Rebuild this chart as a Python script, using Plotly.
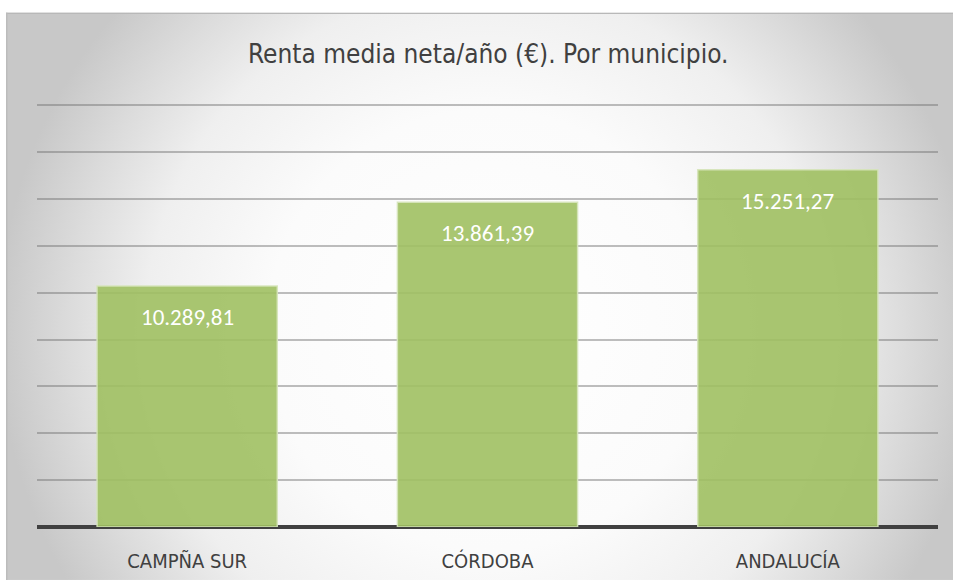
import base64
import plotly.graph_objects as go

# data
categorias = ['CAMPÑA SUR', 'CÓRDOBA', 'ANDALUCÍA']
renta = [10289.81, 13861.39, 15251.27]
etiquetas = ['10.289,81', '13.861,39', '15.251,27']
y_ticks = [0, 2000, 4000, 6000, 8000, 10000, 12000, 14000, 16000, 18000]

narrow = 'DejaVu Sans Condensed, Liberation Sans Narrow, Roboto, sans-serif'

# circular grey->white background like the original office chart
svg = '''<svg xmlns="http://www.w3.org/2000/svg" width="947" height="568" viewBox="0 0 947 568" preserveAspectRatio="none">
<defs><radialGradient id="g" gradientUnits="userSpaceOnUse" cx="482" cy="318" r="490">
<stop offset="0" stop-color="#ffffff"/>
<stop offset="0.45" stop-color="#fbfbfb"/>
<stop offset="0.7" stop-color="#efefef"/>
<stop offset="0.85" stop-color="#dcdcdc"/>
<stop offset="1" stop-color="#c8c8c8"/>
</radialGradient></defs>
<rect x="0" y="0" width="947" height="568" fill="url(#g)"/>
<line x1="0" y1="0.75" x2="947" y2="0.75" stroke="#b8b8b8" stroke-width="1.5"/>
<line x1="0.75" y1="0" x2="0.75" y2="568" stroke="#bcbcbc" stroke-width="1.5"/>
</svg>'''
bg_src = 'data:image/svg+xml;base64,' + base64.b64encode(svg.encode('utf-8')).decode()

fig = go.Figure()

fig.add_trace(go.Bar(
    x=categorias,
    y=renta,
    width=0.6,
    marker=dict(color='rgba(160,192,98,0.9)',
                line=dict(color='rgba(214,228,186,0.9)', width=1.5)),
    hoverinfo='x+y',
    showlegend=False,
))

annotations = []
for c, v, t in zip(categorias, renta, etiquetas):
    annotations.append(dict(x=c, y=v, xref='x', yref='y',
                            text=t, showarrow=False,
                            yanchor='top', yshift=-15,
                            font=dict(family='Carlito, Lato, Noto Sans, sans-serif',
                                      size=23, color='white')))

# title
annotations.append(dict(xref='paper', yref='paper', x=0.5, y=1.0,
                        xanchor='center', yanchor='bottom', yshift=32,
                        text='Renta media neta/año (€). Por municipio.',
                        font=dict(family=narrow, size=26, color='#404040'),
                        showarrow=False))

plot_h = 422 * 18100 / 18000

fig.update_layout(
    width=953,
    height=580,
    autosize=False,
    margin=dict(l=37, r=15, t=580 - 53 - plot_h, b=53, pad=0),
    paper_bgcolor='white',
    plot_bgcolor='rgba(0,0,0,0)',
    annotations=annotations,
    images=[dict(source=bg_src, xref='paper', yref='paper',
                 x=-31 / 901, y=(527 - 12) / plot_h,
                 sizex=947 / 901, sizey=568 / plot_h,
                 xanchor='left', yanchor='top',
                 sizing='stretch', layer='below')],
    xaxis=dict(showgrid=False, showline=False, ticks='', automargin=False,
               tickfont=dict(family=narrow, size=20, color='#404040'),
               ticklabelstandoff=20),
    yaxis=dict(range=[0, 18100], tickvals=y_ticks, showticklabels=False,
               automargin=False,
               showgrid=True, gridcolor='rgba(110,110,110,0.45)', gridwidth=1.5,
               zeroline=True, zerolinecolor='#404040', zerolinewidth=3.5,
               fixedrange=True),
)

fig.write_html('out.html', config={'displayModeBar': False},
               post_script="document.body.style.margin='0';")
